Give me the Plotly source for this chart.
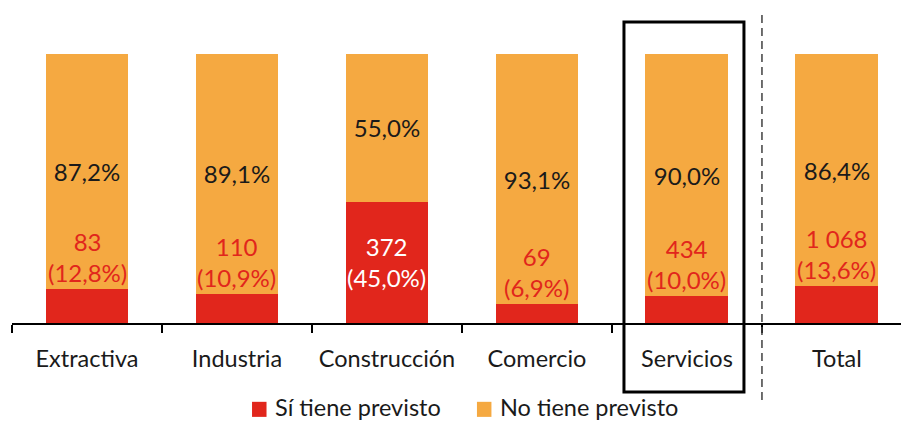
import plotly.graph_objects as go

categories = ["Extractiva", "Industria", "Construcción", "Comercio", "Servicios", "Total"]
si_pct = [12.8, 10.9, 45.0, 6.9, 10.0, 13.6]
no_pct = [87.2, 89.1, 55.0, 93.1, 90.0, 86.4]
si_count = ["83", "110", "372", "69", "434", "1 068"]
series_names = ["Sí tiene previsto", "No tiene previsto"]

RED = "#E1261C"
ORANGE = "#F5A941"
FONT = "Lato"
W = 400
LBL = 24
TXT = 23.5
INK = "#1a1a1a"

def fmt(v):
    return f"{v:.1f}".replace(".", ",") + "%"

fig = go.Figure()
fig.add_trace(go.Bar(
    x=categories, y=si_pct, name=series_names[0],
    marker=dict(color=RED, line=dict(width=0)),
    hoverinfo="skip", showlegend=False,
))
fig.add_trace(go.Bar(
    x=categories, y=no_pct, name=series_names[1],
    marker=dict(color=ORANGE, line=dict(width=0)),
    text=[fmt(v) for v in no_pct],
    textposition="inside", insidetextanchor="middle",
    textfont=dict(family=FONT, size=LBL, color=INK, weight=W),
    hoverinfo="skip", showlegend=False,
))

annotations = []
for c, v, n in zip(categories, si_pct, si_count):
    txt = f"{n}<br>({fmt(v)})"
    if v >= 30:
        annotations.append(dict(x=c, y=v / 2, xref="x", yref="y", text=txt, showarrow=False,
                                yanchor="middle", font=dict(family=FONT, size=LBL, color="white", weight=W)))
    else:
        annotations.append(dict(x=c, y=v, xref="x", yref="y", text=txt, showarrow=False,
                                yanchor="bottom", yshift=0, font=dict(family=FONT, size=LBL, color=RED, weight=W)))

# legend (drawn below the chart)
legend_items = [(series_names[0], RED, 0.270), (series_names[1], ORANGE, 0.523)]
shapes = []
for name, col, lx in legend_items:
    shapes.append(dict(type="rect", xref="paper", yref="paper", x0=lx, x1=lx + 0.0163,
                       y0=-0.349, y1=-0.293, fillcolor=col, line=dict(width=0)))
    annotations.append(dict(x=lx + 0.0236, y=-0.3105, xref="paper", yref="paper", text=name,
                            showarrow=False, xanchor="left", yanchor="middle",
                            font=dict(family=FONT, size=TXT, color=INK, weight=W)))

shapes += [
    dict(type="rect", xref="x", yref="paper", x0=3.58, x1=4.38, y0=-0.2565, y1=1.119,
         line=dict(color="black", width=3), fillcolor="rgba(0,0,0,0)"),
    dict(type="line", xref="x", yref="paper", x0=4.5, x1=4.5, y0=-0.286, y1=1.156,
         line=dict(color="#404040", width=1.5, dash="8px,5px")),
]

fig.update_layout(
    width=901, height=422,
    margin=dict(l=12, r=0, t=54, b=99, autoexpand=False),
    barmode="stack", bargap=0.447,
    plot_bgcolor="white", paper_bgcolor="white",
    font=dict(family=FONT, size=TXT, color=INK, weight=W),
    showlegend=False,
    xaxis=dict(range=[-0.5, 5.427], showline=True, linecolor="black", linewidth=1.5,
               ticks="outside", tickson="boundaries", ticklen=8, tickcolor="black", tickwidth=1.5,
               ticklabelstandoff=14, automargin=False,
               showgrid=False, fixedrange=True,
               tickfont=dict(family=FONT, size=TXT, color=INK, weight=W)),
    yaxis=dict(range=[0, 100], visible=False, showgrid=False, fixedrange=True),
    annotations=annotations,
    shapes=shapes,
)

fig.write_html("out.html", config={"displayModeBar": False},
               post_script="document.body.style.margin='0';document.body.style.overflow='hidden';")
